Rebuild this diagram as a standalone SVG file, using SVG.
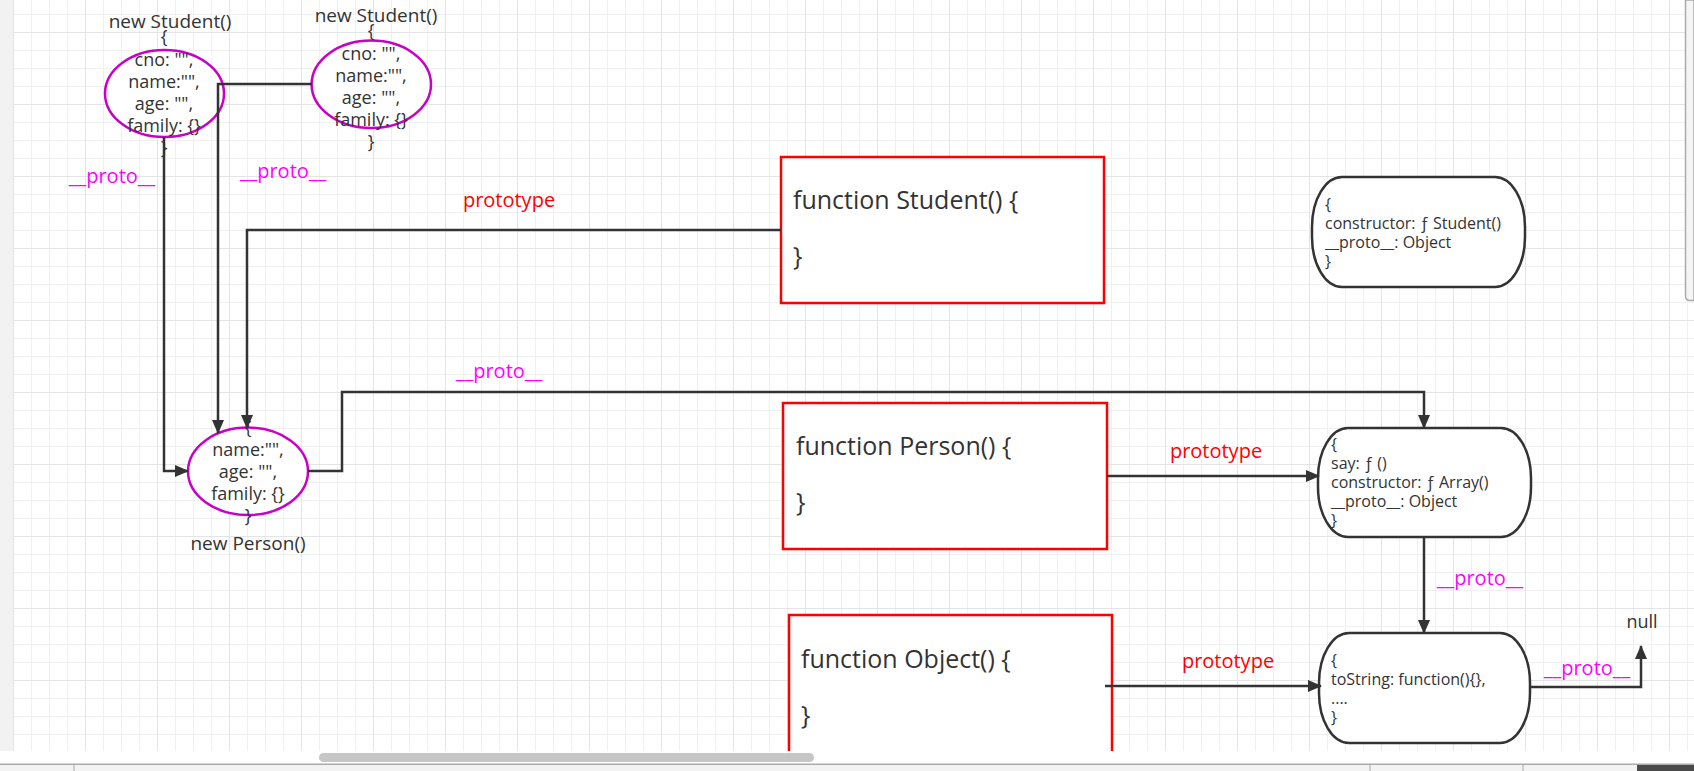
<svg xmlns="http://www.w3.org/2000/svg" width="1694" height="771" viewBox="0 0 1694 771">
  <defs>
    <style>
      .t { font-family: 'Microsoft YaHei', 'Open Sans', 'Noto Sans', sans-serif; fill: #333; }
      .obj { font-size: 18px; text-anchor: middle; }
      .title { font-size: 19px; text-anchor: middle; }
      .fn { font-size: 25px; }
      .proto { font-size: 16px; }
      .lbl-m { font-family: 'Microsoft YaHei', 'Open Sans', 'Noto Sans', sans-serif; font-size: 20px; fill: #ff00ff; text-anchor: middle; }
      .lbl-r { font-family: 'Microsoft YaHei', 'Open Sans', 'Noto Sans', sans-serif; font-size: 20px; fill: #ff0000; text-anchor: middle; }
      .ell { fill: #fff; stroke: #c800c8; stroke-width: 2.5; }
      .fbox { fill: #fff; stroke: #ff0000; stroke-width: 2.5; }
      .pnode { fill: #fff; stroke: #333; stroke-width: 2.5; }
      .conn { fill: none; stroke: #333; stroke-width: 2.5; marker-end: url(#arr); }
    </style>
    <pattern id="grid" x="13" y="32" width="72" height="72" patternUnits="userSpaceOnUse">
      <rect width="72" height="72" fill="#fff"/>
      <path d="M18.5,0V72M36.5,0V72M54.5,0V72M0,18.5H72M0,36.5H72M0,54.5H72" stroke="#f0f0f0" stroke-width="1"/>
      <path d="M0.5,0V72M0,0.5H72" stroke="#e4e4e4" stroke-width="1"/>
    </pattern>
    <marker id="arr" viewBox="0 0 14 12" refX="13" refY="6" markerWidth="14" markerHeight="12" markerUnits="userSpaceOnUse" orient="auto">
      <path d="M0,0 L14,6 L0,12 z" fill="#333"/>
    </marker>
    <clipPath id="canvasClip">
      <rect x="13" y="0" width="1681" height="751"/>
    </clipPath>
  </defs>

  <!-- canvas background -->
  <rect x="0" y="0" width="1694" height="771" fill="#fff"/>
  <rect x="0" y="0" width="13" height="751" fill="#f2f2f2"/>
  <rect x="13" y="0" width="1681" height="751" fill="url(#grid)"/>

  <g clip-path="url(#canvasClip)">
    <!-- nodes -->
    <g id="student-instance-1">
      <ellipse class="ell" cx="164.5" cy="93.5" rx="59.5" ry="43.5"/>
      <text class="t title" x="170" y="28">new Student()</text>
      <text class="t obj" x="164" y="43">{</text>
      <text class="t obj" x="164" y="66">cno: "",</text>
      <text class="t obj" x="164" y="88">name:"",</text>
      <text class="t obj" x="164" y="110">age: "",</text>
      <text class="t obj" x="164" y="132">family: {}</text>
      <text class="t obj" x="164" y="154">}</text>
    </g>
    <g id="student-instance-2">
      <ellipse class="ell" cx="371.3" cy="84.3" rx="59.7" ry="43.7"/>
      <text class="t title" x="376" y="22">new Student()</text>
      <text class="t obj" x="371" y="37">{</text>
      <text class="t obj" x="371" y="60">cno: "",</text>
      <text class="t obj" x="371" y="82">name:"",</text>
      <text class="t obj" x="371" y="104">age: "",</text>
      <text class="t obj" x="371" y="126">family: {}</text>
      <text class="t obj" x="371" y="148">}</text>
    </g>
    <g id="person-instance">
      <ellipse class="ell" cx="248" cy="471.3" rx="60" ry="43.7"/>
      <text class="t obj" x="248" y="434">{</text>
      <text class="t obj" x="248" y="456">name:"",</text>
      <text class="t obj" x="248" y="478">age: "",</text>
      <text class="t obj" x="248" y="500">family: {}</text>
      <text class="t obj" x="248" y="522">}</text>
      <text class="t title" x="248" y="550">new Person()</text>
    </g>
    <g id="fn-student">
      <rect class="fbox" x="781" y="157" width="323" height="146"/>
      <text class="t fn" x="793" y="209">function Student() {</text>
      <text class="t fn" x="793" y="265">}</text>
    </g>
    <g id="fn-person">
      <rect class="fbox" x="783" y="403" width="324" height="146"/>
      <text class="t fn" x="796" y="455">function Person() {</text>
      <text class="t fn" x="796" y="511">}</text>
    </g>
    <g id="fn-object">
      <rect class="fbox" x="789" y="615" width="323" height="170"/>
      <text class="t fn" x="801" y="668">function Object() {</text>
      <text class="t fn" x="801" y="724">}</text>
    </g>
    <g id="student-prototype">
      <rect class="pnode" x="1312" y="177" width="213" height="110" rx="30" ry="50"/>
      <text class="t proto" x="1325" y="210">{</text>
      <text class="t proto" x="1325" y="229">constructor: ƒ Student()</text>
      <text class="t proto" x="1325" y="248">__proto__: Object</text>
      <text class="t proto" x="1325" y="267">}</text>
    </g>
    <g id="person-prototype">
      <rect class="pnode" x="1318" y="428" width="213" height="109" rx="30" ry="50"/>
      <text class="t proto" x="1331" y="450">{</text>
      <text class="t proto" x="1331" y="469">say: ƒ ()</text>
      <text class="t proto" x="1331" y="488">constructor: ƒ Array()</text>
      <text class="t proto" x="1331" y="507">__proto__: Object</text>
      <text class="t proto" x="1331" y="526">}</text>
    </g>
    <g id="object-prototype">
      <rect class="pnode" x="1319" y="633" width="211" height="110" rx="30" ry="50"/>
      <text class="t proto" x="1331" y="666">{</text>
      <text class="t proto" x="1331" y="685">toString: function(){},</text>
      <text class="t proto" x="1331" y="704">....</text>
      <text class="t proto" x="1331" y="723">}</text>
    </g>
    <g id="null-node">
      <text class="t" x="1642" y="628" font-size="18" text-anchor="middle">null</text>
    </g>

    <!-- connectors -->
    <g id="connectors">
      <path class="conn" d="M164,137 V471 H188"/>
      <path class="conn" d="M312,84 H218 V433"/>
      <path class="conn" d="M781,230 H247 V428"/>
      <path class="conn" d="M308,471 H342 V392 H1424 V428"/>
      <path class="conn" d="M1107,476 H1319"/>
      <path class="conn" d="M1105,686 H1321"/>
      <path class="conn" d="M1424,537 V633"/>
      <path class="conn" d="M1530,687 H1641 V646"/>
      <text class="lbl-m" x="112" y="183">__proto__</text>
      <text class="lbl-m" x="283" y="178">__proto__</text>
      <text class="lbl-r" x="509" y="207">prototype</text>
      <text class="lbl-m" x="499" y="378">__proto__</text>
      <text class="lbl-r" x="1216" y="458">prototype</text>
      <text class="lbl-r" x="1228" y="668">prototype</text>
      <text class="lbl-m" x="1480" y="585">__proto__</text>
      <text class="lbl-m" x="1587" y="675">__proto__</text>
    </g>
  </g>

  <!-- window chrome -->
  <path d="M1685.5,0 V296 Q1685.5,300.5 1690,300.5 H1694 V0 Z" fill="#f5f5f5" stroke="#aaa" stroke-width="1.5"/>
  <rect x="319" y="753" width="495" height="9" rx="4.5" fill="#c6c6c6"/>
  <rect x="0" y="764" width="1694" height="7" fill="#f3f3f3"/>
  <rect x="0" y="763.5" width="1694" height="1.5" fill="#aaa"/>
  <rect x="73.5" y="765" width="1" height="6" fill="#aaa"/>
  <rect x="1369.5" y="765" width="1" height="6" fill="#aaa"/>
  <rect x="1522.5" y="765" width="1" height="6" fill="#aaa"/>
  <rect x="1637" y="765" width="57" height="6" fill="#4a4a4a"/>
</svg>
